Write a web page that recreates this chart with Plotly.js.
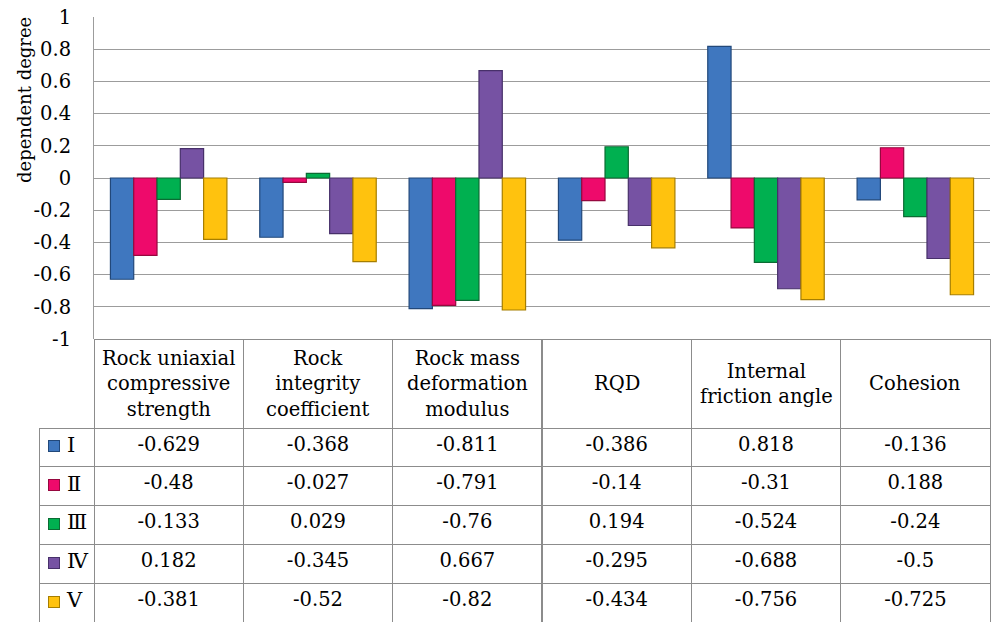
<!DOCTYPE html>
<html>
<head>
<meta charset="utf-8">
<script src="https://cdn.plot.ly/plotly-3.0.1.min.js"></script>
<style>
  html, body { margin: 0; padding: 0; background: #ffffff; }
  #chart { width: 992px; height: 622px; }
</style>
</head>
<body>
<div id="chart"></div>
<script>
// Indicators (x categories) and their multi-line labels for the table header
const categories = [
  'Rock uniaxial compressive strength',
  'Rock integrity coefficient',
  'Rock mass deformation modulus',
  'RQD',
  'Internal friction angle',
  'Cohesion'
];
const headerLabels = [
  'Rock uniaxial<br>compressive<br>strength',
  'Rock<br>integrity<br>coefficient',
  'Rock mass<br>deformation<br>modulus',
  'RQD',
  'Internal<br>friction angle',
  'Cohesion'
];

// Grade names
const seriesNames = ['Ⅰ', 'Ⅱ', 'Ⅲ', 'Ⅳ', 'Ⅴ'];

// Dependent degree of each indicator for each grade
const gradeI   = [-0.629, -0.368, -0.811, -0.386,  0.818, -0.136];
const gradeII  = [-0.48,  -0.027, -0.791, -0.14,  -0.31,   0.188];
const gradeIII = [-0.133,  0.029, -0.76,   0.194, -0.524, -0.24];
const gradeIV  = [ 0.182, -0.345,  0.667, -0.295, -0.688, -0.5];
const gradeV   = [-0.381, -0.52,  -0.82,  -0.434, -0.756, -0.725];

// Y axis ticks
const yTickVals = [1, 0.8, 0.6, 0.4, 0.2, 0, -0.2, -0.4, -0.6, -0.8, -1];
const yTickText = ['1', '0.8', '0.6', '0.4', '0.2', '0', '-0.2', '-0.4', '-0.6', '-0.8', '-1'];

const allSeries = [gradeI, gradeII, gradeIII, gradeIV, gradeV];
const fills  = ['#3F77BF', '#EE0A6B', '#00B050', '#7652A3', '#FFC20E'];
const edges  = ['#22487A', '#96083F', '#0B6B33', '#47306A', '#A67E00'];

const FONT = 'DejaVu Serif';
const GRID = '#9C9C9C';
const TABLE_LINE = '#8C8C8C';

// Page geometry (pixels)
const W = 992, H = 622;
const M = { l: 39, r: 2, t: 17, b: 0 };
const plotLeftPx = 94;     // left edge of the bar area
const plotBottomPx = 339;  // y = -1
const headerPx = 89;
const rowPx = 38.8;
const paperW = W - M.l - M.r;
const paperH = H - M.t - M.b;
const xDomStart = (plotLeftPx - M.l) / paperW;
const yDomStart = (H - plotBottomPx - M.b) / paperH;
const pxToPaperX = px => (px - M.l) / paperW;
const pxToPaperY = py => (H - py - M.b) / paperH;

const traces = allSeries.map((vals, i) => ({
  type: 'bar',
  name: seriesNames[i],
  x: categories,
  y: vals,
  marker: { color: fills[i], line: { color: edges[i], width: 1.2 } },
  showlegend: false,
  hoverinfo: 'skip'
}));

// Data table below the bars: first column holds the grade names
const NBSP = '\u00A0';
const keyColumn = seriesNames.map(n => NBSP + NBSP + NBSP + n);
const valueColumns = categories.map((c, j) => allSeries.map(s => String(s[j])));

const firstColPx = plotLeftPx - M.l;
const catColPx = (paperW - firstColPx) / categories.length;
const clear = 'rgba(0,0,0,0)';

traces.push({
  type: 'table',
  domain: { x: [0, 1], y: [0, yDomStart] },
  columnwidth: [firstColPx].concat(categories.map(() => catColPx)),
  header: {
    values: [''].concat(categories.map(() => '')),
    height: headerPx,
    fill: { color: [clear].concat(categories.map(() => '#ffffff')) },
    line: { color: [clear].concat(categories.map(() => TABLE_LINE)), width: 1 },
    font: { family: FONT, size: 19, color: '#000000' }
  },
  cells: {
    values: [keyColumn].concat(valueColumns),
    height: rowPx,
    align: ['left'].concat(categories.map(() => 'center')),
    fill: { color: '#ffffff' },
    line: { color: TABLE_LINE, width: 1 },
    font: {
      family: FONT,
      size: [21].concat(categories.map(() => 19.5)),
      color: '#000000'
    }
  }
});

// Column headings of the table, centred over each category
const annotations = categories.map((c, j) => ({
  xref: 'x', yref: 'paper',
  x: c, y: pxToPaperY(plotBottomPx + headerPx / 2),
  text: headerLabels[j],
  showarrow: false,
  xanchor: 'center', yanchor: 'middle',
  align: 'center',
  font: { family: FONT, size: 19.5, color: '#000000' }
}));

// Colour keys in front of the grade names
seriesNames.forEach((n, i) => {
  annotations.push({
    xref: 'paper', yref: 'paper',
    x: pxToPaperX(54), y: pxToPaperY(plotBottomPx + headerPx + rowPx * (i + 0.5) - 1),
    text: NBSP,
    showarrow: false,
    width: 10, height: 10,
    bgcolor: fills[i],
    bordercolor: edges[i],
    borderwidth: 1,
    borderpad: 0,
    xanchor: 'center', yanchor: 'middle',
    font: { family: FONT, size: 6 }
  });
});

// Y axis title
annotations.push({
  xref: 'paper', yref: 'paper',
  x: pxToPaperX(25), y: pxToPaperY(100),
  text: 'dependent degree',
  textangle: -90,
  showarrow: false,
  xanchor: 'center', yanchor: 'middle',
  font: { family: FONT, size: 18, color: '#000000' }
});

const layout = {
  width: W, height: H,
  margin: { l: M.l, r: M.r, t: M.t, b: M.b, pad: 0 },
  paper_bgcolor: '#ffffff',
  plot_bgcolor: '#ffffff',
  barmode: 'group',
  bargap: 0.22,
  bargroupgap: 0,
  xaxis: {
    domain: [xDomStart, 1],
    showticklabels: false,
    showgrid: false,
    zeroline: false,
    showline: false,
    ticks: '',
    fixedrange: true
  },
  yaxis: {
    domain: [yDomStart, 1],
    range: [-1, 1],
    tickmode: 'array',
    tickvals: yTickVals,
    ticktext: yTickText,
    ticks: '',
    ticklabelstandoff: 18,
    tickfont: { family: FONT, size: 19.5, color: '#000000' },
    showgrid: true,
    gridcolor: GRID,
    gridwidth: 1,
    zeroline: true,
    zerolinecolor: GRID,
    zerolinewidth: 1,
    showline: true,
    linecolor: GRID,
    linewidth: 1,
    fixedrange: true
  },
  annotations: annotations,
  font: { family: FONT }
};

Plotly.newPlot('chart', traces, layout, { displayModeBar: false, staticPlot: true });
</script>
</body>
</html>
